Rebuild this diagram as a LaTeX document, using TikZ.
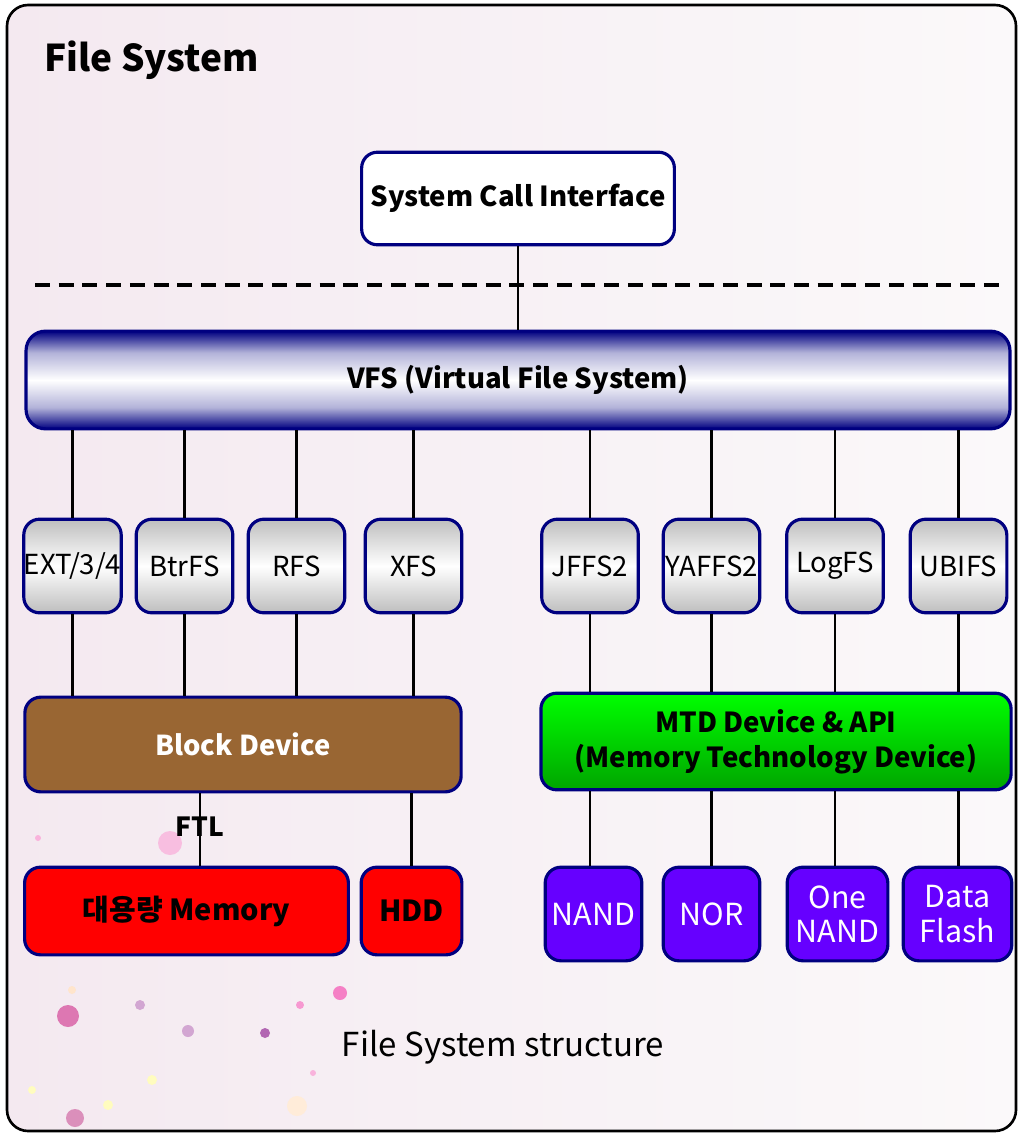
\documentclass[tikz,border=0pt]{standalone}
\usepackage{fontspec}
\setmainfont{Noto Sans CJK KR}
\usepackage{xcolor}

\definecolor{navyline}{RGB}{0,0,128}
\definecolor{blockbrown}{RGB}{153,102,51}
\definecolor{mtdtop}{RGB}{0,255,0}
\definecolor{mtdbottom}{RGB}{0,165,0}
\definecolor{memred}{RGB}{255,0,0}
\definecolor{flashviolet}{RGB}{102,0,255}
\definecolor{fsgray}{RGB}{190,190,190}
\definecolor{slidepink}{RGB}{244,233,240}
\definecolor{slidewhite}{RGB}{251,249,250}

\pgfdeclareverticalshading{vfsshade}{100bp}{color(0bp)=(navyline); color(25bp)=(navyline); color(36bp)=(navyline!30); color(50bp)=(white); color(64bp)=(navyline!30); color(75bp)=(navyline); color(100bp)=(navyline)}

\newcommand{\fsz}[2][19.5pt]{\fontsize{#2}{#1}\selectfont}

\begin{document}
\begin{tikzpicture}[x=0.02cm, y=-0.02cm,
    box/.style={draw=navyline, line width=1.8pt, rounded corners=9pt, inner sep=0pt, align=center},
    fsbox/.style={box, top color=fsgray, bottom color=fsgray, middle color=white,
                  minimum width=55pt, minimum height=53.3pt, font=\fsz{15.7pt}},
    flashbox/.style={box, fill=flashviolet, text=white, minimum height=53.3pt,
                  font=\fsz{17.3pt}},
    membox/.style={box, fill=memred, minimum height=49.9pt, font=\bfseries\fsz{16.5pt}},
    link/.style={line width=1.4pt, black},
    dot/.style={draw=none, fill=#1}]

    % slide background
    \useasboundingbox (0,0) rectangle (1020,1135);
    \fill[white] (0,0) rectangle (1020,1135);
    \draw[line width=1.5pt, rounded corners=12pt, left color=slidepink, right color=slidewhite]
        (7,5) rectangle (1016,1131);

    % confetti
    \fill[dot=magenta!30, opacity=.8] (170,843) circle (12);
    \fill[dot=magenta!60!violet!60] (68,1016) circle (11);
    \fill[dot=violet!35] (140,1005) circle (5);
    \fill[dot=violet!35] (188,1031) circle (6);
    \fill[dot=violet!60] (265,1033) circle (5);
    \fill[dot=magenta!40] (300,1005) circle (4);
    \fill[dot=magenta!50] (340,993) circle (7);
    \fill[dot=magenta!45!violet!50] (75,1118) circle (9);
    \fill[dot=orange!20] (72,990) circle (4);
    \fill[dot=yellow!25] (152,1080) circle (5);
    \fill[dot=yellow!25] (32,1090) circle (4);
    \fill[dot=yellow!25] (108,1105) circle (5);
    \fill[dot=orange!15] (297,1106) circle (10);
    \fill[dot=magenta!30] (313,1073) circle (3);
    \fill[dot=magenta!30] (38,838) circle (3);

    \node[anchor=base west, font=\bfseries\fsz{21pt}] (title) at (38,72) {File System};

    \node[box, fill=white, minimum width=178pt, minimum height=52.7pt, font=\bfseries\fsz{15.7pt}] (sci) at (518,198.5) {System Call Interface};
    \node[box, shading=vfsshade, rounded corners=11pt, minimum width=560pt, minimum height=55.6pt, font=\bfseries\fsz{15.7pt}] (vfs) at (518,380) {VFS (Virtual File System)};

    \node[fsbox] (ext) at (72.5,566) {EXT/3/4};
    \node[fsbox] (btrfs) at (184.5,566) {BtrFS};
    \node[fsbox] (rfs) at (296.5,566) {RFS};
    \node[fsbox] (xfs) at (413.5,566) {XFS};
    \node[fsbox] (jffs) at (590,566) {JFFS2};
    \node[fsbox] (yaffs) at (711.5,566) {YAFFS2};
    \node[fsbox] (logfs) at (835,566) {LogFS};
    \node[fsbox] (ubifs) at (958.5,566) {UBIFS};

    \node[box, fill=blockbrown, text=white, minimum width=248.3pt, minimum height=53.9pt, font=\bfseries\fsz{15.6pt}] (block) at (243,744.5) {Block Device};
    \node[box, top color=mtdtop, bottom color=mtdbottom, minimum width=267.6pt, minimum height=55pt, font={\bfseries\fsz[19.8pt]{15.7pt}}] (mtd) at (776,741.5) {MTD Device \& API\\(Memory Technology Device)};

    \node[membox, minimum width=184.3pt] (mem) at (186.5,911) {대용량 Memory};
    \node[membox, minimum width=57.3pt] (hdd) at (411.5,911) {HDD};

    \node[flashbox, minimum width=55pt] (nand) at (593.5,914) {NAND};
    \node[flashbox, minimum width=55pt] (nor) at (711.5,914) {NOR};
    \node[flashbox, minimum width=57.3pt] (onenand) at (837.5,914) {One\\NAND};
    \node[flashbox, minimum width=61.8pt] (dflash) at (957.5,914) {Data\\Flash};

    \node[font=\fsz{18.8pt}] (caption) at (503,1047) {File System structure};

    % separator
    \coordinate (sepl) at (35,285);
    \coordinate (sepr) at (1000,285);
    \draw[line width=2pt, dash pattern=on 8.5pt off 5pt] (sepl) -- (sepr);

    \draw[link] (sci) -- (vfs);
    \foreach \fs in {ext,btrfs,rfs,xfs,jffs,yaffs,logfs,ubifs}
        \draw[link] (vfs.south -| \fs.north) -- (\fs.north);
    \foreach \fs in {ext,btrfs,rfs,xfs}
        \draw[link] (\fs.south) -- (block.north -| \fs.south);
    \foreach \fs in {jffs,yaffs,logfs,ubifs}
        \draw[link] (\fs.south) -- (mtd.north -| \fs.south);

    \coordinate (ftlpos) at (200,827);
    \draw[link] (block.south -| ftlpos) -- (mem.north -| ftlpos);
    \node[font=\bfseries\fsz{15pt}] (ftl) at (ftlpos) {FTL};
    \draw[link] (block.south -| hdd.north) -- (hdd.north);

    \draw[link] (mtd.south -| jffs.south) -- (nand.north -| jffs.south);
    \draw[link] (mtd.south -| yaffs.south) -- (nor.north -| yaffs.south);
    \draw[link] (mtd.south -| logfs.south) -- (onenand.north -| logfs.south);
    \draw[link] (mtd.south -| ubifs.south) -- (dflash.north -| ubifs.south);

\end{tikzpicture}
\end{document}
